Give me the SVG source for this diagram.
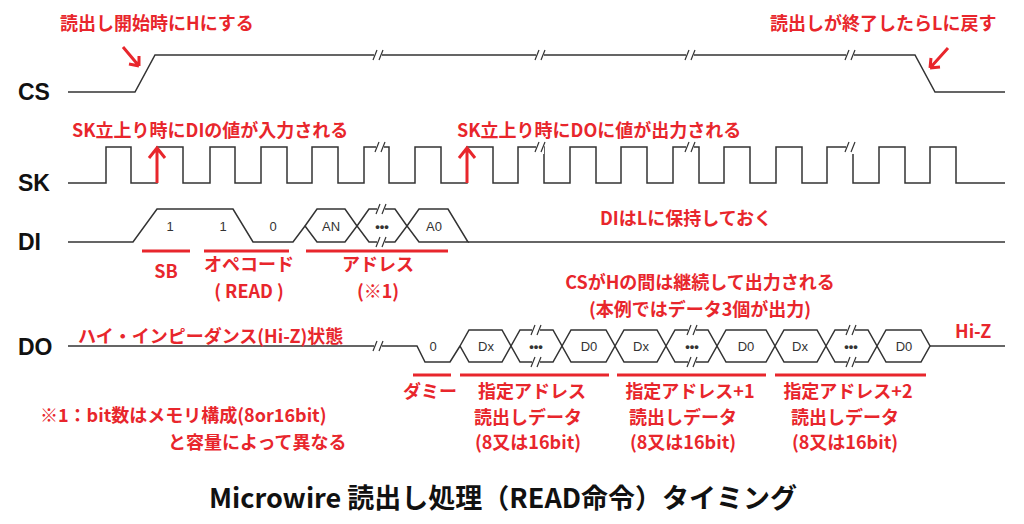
<svg xmlns="http://www.w3.org/2000/svg" width="1024" height="524" viewBox="0 0 1024 524">
<defs>
<style>
.w{fill:none;stroke:#333;stroke-width:1.5}
.r{fill:#e8262c;font-family:"Noto Sans CJK JP","Liberation Sans",sans-serif;font-weight:bold;font-size:18px}
.rl{stroke:#e8262c;stroke-width:3;fill:none}
.sig{font-family:"Liberation Sans",sans-serif;font-weight:bold;font-size:23px;fill:#111}
.v{font-family:"Liberation Sans",sans-serif;font-size:13px;fill:#333;text-anchor:middle}
.c{text-anchor:middle}
.brk{fill:none;stroke:#333;stroke-width:1.2}
</style>
<g id="bk"><rect x="-4" y="-7" width="8" height="14" fill="#fff"/><path class="brk" d="M-5 5 Q-3 0 -1 -5 M1 5 Q3 0 5 -5"/></g>
</defs>
<rect width="1024" height="524" fill="#fff"/>
<g id="labels">
<text class="sig" x="18" y="100">CS</text>
<text class="sig" x="18" y="191">SK</text>
<text class="sig" x="18" y="250">DI</text>
<text class="sig" x="18" y="355">DO</text>
</g>
<g id="connectors">
<path id="cs" class="w" d="M68 92 H135 L155 55 H915 L935 92 H1005"/>
<path id="sk" class="w" d="M68 183 H106 V147 H131 V183 H157 V147 H183 V183 H210 V147 H235 V183 H261 V147 H287 V183 H312 V147 H338 V183 H364 V147 H389 V183 H415 V147 H441 V183 H467 V147 H493 V183 H518 V147 H544 V183 H570 V147 H596 V183 H621 V147 H647 V183 H673 V147 H699 V183 H724 V147 H750 V183 H776 V147 H802 V183 H827 V147 H853 V183 H879 V147 H905 V183 H930 V147 H956 V183 H1005"/>
<g id="di" class="w">
<path d="M68 242 H133 L157 209 H233 L253 242 H293 L305 226"/>
<path d="M305 226 L317 209 H345 L357 226 L345 242 H317 Z"/>
<path d="M357 226 L369 209 H395 L407 226 L395 242 H369 Z"/>
<path d="M407 226 L419 209 H448 L468 242 H419 Z"/>
<path d="M468 242 H1005"/>
</g>
<g id="do" class="w">
<path d="M68 346 H417 L425 362 H450 L460 346"/>
<path d="M460 346 L469 330 H502 L511 346 L502 362 H469 Z"/>
<path d="M511 346 L520 330 H553 L562 346 L553 362 H520 Z"/>
<path d="M562 346 L571 330 H606 L615 346 L606 362 H571 Z"/>
<path d="M615 346 L624 330 H657 L666 346 L657 362 H624 Z"/>
<path d="M666 346 L675 330 H708 L717 346 L708 362 H675 Z"/>
<path d="M717 346 L726 330 H766 L775 346 L766 362 H726 Z"/>
<path d="M775 346 L784 330 H817 L826 346 L817 362 H784 Z"/>
<path d="M826 346 L835 330 H868 L877 346 L868 362 H835 Z"/>
<path d="M877 346 L886 330 H921 L930 346 L921 362 H886 Z"/>
<path d="M930 346 H1005"/>
</g>
<use href="#bk" x="378" y="55"/><use href="#bk" x="540" y="55"/><use href="#bk" x="690" y="55"/><use href="#bk" x="850" y="55"/>
<use href="#bk" x="380" y="147"/><use href="#bk" x="540" y="147"/><use href="#bk" x="690" y="147"/><use href="#bk" x="850" y="147"/>
<use href="#bk" x="381" y="209"/><use href="#bk" x="381" y="242"/>
<use href="#bk" x="378" y="346"/>
<use href="#bk" x="536" y="330"/><use href="#bk" x="536" y="362"/>
<use href="#bk" x="692" y="330"/><use href="#bk" x="692" y="362"/>
<use href="#bk" x="851" y="330"/><use href="#bk" x="851" y="362"/>
</g>
<g id="values">
<text class="v" x="170" y="231">1</text><text class="v" x="223" y="231">1</text><text class="v" x="273" y="231">0</text>
<text class="v" x="331" y="231">AN</text><text class="v" x="382" y="231" font-weight="bold">•••</text><text class="v" x="434" y="231">A0</text>
<text class="v" x="433" y="351">0</text>
<text class="v" x="486" y="351">Dx</text><text class="v" x="536" y="351" font-weight="bold">•••</text><text class="v" x="589" y="351">D0</text>
<text class="v" x="641" y="351">Dx</text><text class="v" x="692" y="351" font-weight="bold">•••</text><text class="v" x="746" y="351">D0</text>
<text class="v" x="800" y="351">Dx</text><text class="v" x="851" y="351" font-weight="bold">•••</text><text class="v" x="904" y="351">D0</text>
</g>
<g id="annotations">
<path class="rl" d="M123 47 L139 66 M139 66 L139 56 M139 66 L129 64"/>
<path class="rl" d="M948 48 L930 68 M930 68 L931 58 M930 68 L940 67"/>
<path class="rl" d="M157 183 V149 M149 158 L157 148 L165 158"/>
<path class="rl" d="M467 183 V149 M459 158 L467 148 L475 158"/>
<path class="rl" d="M142 251 H190 M204 251 H289 M306 251 H448 M413 375 H451 M460 375 H609 M617 375 H766 M775 375 H926"/>
<text class="r" x="60" y="30">読出し開始時にHにする</text>
<text class="r" x="770" y="30">読出しが終了したらLに戻す</text>
<text class="r" x="72" y="137">SK立上り時にDIの値が入力される</text>
<text class="r" x="457" y="137">SK立上り時にDOに値が出力される</text>
<text class="r" x="600" y="225">DIはLに保持しておく</text>
<text class="r c" x="166" y="278">SB</text>
<text class="r c" x="249" y="271">オペコード</text>
<text class="r c" x="249" y="298">( READ )</text>
<text class="r c" x="378" y="271">アドレス</text>
<text class="r c" x="378" y="298">(※1)</text>
<text class="r c" x="700" y="289">CSがHの間は継続して出力される</text>
<text class="r c" x="700" y="316" font-size="16">(本例ではデータ3個が出力)</text>
<text class="r" x="78" y="343">ハイ・インピーダンス(Hi-Z)状態</text>
<text class="r" x="955" y="338">Hi-Z</text>
<text class="r c" x="430" y="398">ダミー</text>
<text class="r c" x="532" y="398">指定アドレス</text>
<text class="r c" x="528" y="424">読出しデータ</text>
<text class="r c" x="528" y="449">(8又は16bit)</text>
<text class="r c" x="690" y="398">指定アドレス+1</text>
<text class="r c" x="683" y="424">読出しデータ</text>
<text class="r c" x="683" y="449">(8又は16bit)</text>
<text class="r c" x="848" y="398">指定アドレス+2</text>
<text class="r c" x="845" y="424">読出しデータ</text>
<text class="r c" x="845" y="449">(8又は16bit)</text>
<text class="r" x="40" y="422">※1：bit数はメモリ構成(8or16bit)</text>
<text class="r" x="168" y="449">と容量によって異なる</text>
</g>
<text id="title" x="503" y="508" text-anchor="middle" font-family="'Noto Sans CJK JP','Liberation Sans',sans-serif" font-weight="bold" font-size="27" fill="#111">Microwire 読出し処理（READ命令）タイミング</text>
</svg>
